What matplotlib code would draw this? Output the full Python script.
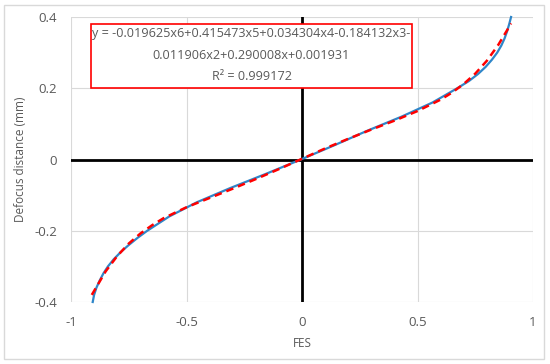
import matplotlib
matplotlib.use('Agg')
import matplotlib.pyplot as plt
from matplotlib.patches import Rectangle

# measured data: FES vs defocus distance (mm)
defocus = [-0.40, -0.38, -0.36, -0.34, -0.32, -0.30, -0.28, -0.26, -0.24, -0.22,
           -0.20, -0.16, -0.12, -0.08, -0.04, 0.00, 0.04, 0.08, 0.12, 0.16,
           0.20, 0.22, 0.24, 0.26, 0.28, 0.30, 0.32, 0.34, 0.36, 0.38, 0.40]
fes = [-0.906, -0.900, -0.890, -0.876, -0.860, -0.840, -0.815, -0.785, -0.750, -0.712,
       -0.670, -0.575, -0.455, -0.310, -0.155, -0.005, 0.140, 0.280, 0.430, 0.565,
       0.672, 0.722, 0.762, 0.795, 0.822, 0.845, 0.863, 0.877, 0.888, 0.897, 0.905]

# trendline values as drawn (red dashed)
trendX = [-0.91, -0.85, -0.80, -0.75, -0.70, -0.65, -0.60, -0.50, -0.40, -0.30,
          -0.20, -0.10, 0.00, 0.10, 0.20, 0.30, 0.40, 0.50, 0.60, 0.65,
          0.70, 0.75, 0.80, 0.85, 0.90, 0.905]
trendY = [-0.380, -0.314, -0.271, -0.236, -0.208, -0.185, -0.165, -0.134, -0.108, -0.082,
          -0.055, -0.027, 0.002, 0.031, 0.058, 0.084, 0.109, 0.136, 0.168, 0.188,
          0.212, 0.241, 0.277, 0.322, 0.376, 0.382]

eqLines = ['y = -0.019625x6+0.415473x5+0.034304x4-0.184132x3-',
           '0.011906x2+0.290008x+0.001931',
           'R² = 0.999172']

plt.rcParams['font.family'] = ['Open Sans', 'DejaVu Sans']
textColor = '#595959'
gridColor = '#d9d9d9'

fig = plt.figure(figsize=(5.5, 3.64), dpi=100)
fig.patches.append(Rectangle((4 / 550, 1 - 359 / 364), 540 / 550, 354 / 364,
                             transform=fig.transFigure, fill=False,
                             edgecolor='#d9d9d9', linewidth=1))
ax = fig.add_axes([71 / 550, 1 - 302 / 364, 462 / 550, 285 / 364])

ax.set_xlim(-1, 1)
ax.set_ylim(-0.4, 0.4)
ax.set_xticks([-1, -0.5, 0, 0.5, 1])
ax.set_yticks([-0.4, -0.2, 0, 0.2, 0.4])
ax.set_xticklabels(['-1', '-0.5', '0', '0.5', '1'])
ax.set_yticklabels(['-0.4', '-0.2', '0', '0.2', '0.4'])
ax.tick_params(length=0, labelsize=9.5, colors=textColor, pad=10)
ax.grid(True, color=gridColor, linewidth=0.8)
ax.set_axisbelow(True)
for spine in ax.spines.values():
    spine.set_visible(False)

ax.axhline(0, color='black', linewidth=2, zorder=2)
ax.axvline(0, color='black', linewidth=2, zorder=2)

ax.plot(fes, defocus, color='#2e86c9', linewidth=1.6, zorder=3, clip_on=False)
ax.plot(trendX, trendY, color='#ff0000', linewidth=1.8, linestyle=(0, (3, 2)), zorder=4)

ax.set_xlabel('FES', fontsize=8.5, color=textColor, labelpad=6)
ax.set_ylabel('Defocus distance (mm)', fontsize=8.5, color=textColor, labelpad=5)

# equation box
fig.patches.append(Rectangle((91 / 550, 1 - 88 / 364), 321 / 550, 64 / 364,
                             transform=fig.transFigure, fill=True, facecolor='white',
                             edgecolor='#ff0000', linewidth=1.2, zorder=5))
for i, line in enumerate(eqLines):
    fig.text(251.5 / 550, 1 - (34 + 21.5 * i) / 364, line, ha='center', va='center',
             fontsize=9.1, color=textColor, zorder=6)

fig.savefig('out.png', dpi=100)
